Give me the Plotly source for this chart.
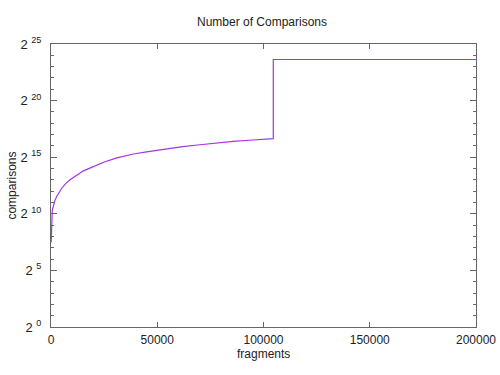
import plotly.graph_objects as go
import math

fragments = [100, 200, 330, 600, 1080, 1800, 2680, 4000, 5040, 7000, 8940, 12850, 15000,
             19150, 25080, 31000, 38730, 45000, 54450, 62000, 70100, 78000, 85800, 95000,
             104600, 104600, 200000]
comparisons = [180, 400, 870, 1300, 1600, 2300, 2950, 4000, 4900, 6600, 8200, 11600, 14000,
               17600, 24500, 31500, 39800, 45500, 55000, 62500, 70200, 78500, 86500, 94000,
               102000, 13000000, 13000000]

y_exponents = [0, 5, 10, 15, 20, 25]
x_ticks = [0, 50000, 100000, 150000, 200000]

FONT = "Liberation Sans, Arial"
TXT = "#222222"
fig = go.Figure()
fig.add_trace(go.Scatter(x=fragments, y=comparisons, mode="lines",
                         line=dict(color="#a335e0", width=1.2),
                         showlegend=False))

axis_common = dict(showgrid=False, zeroline=False, showline=True, linecolor="#666666",
                   linewidth=1, mirror="allticks", ticks="inside", tickcolor="#666666",
                   automargin=False)

fig.update_xaxes(range=[0, 200000], tickvals=x_ticks, ticktext=[str(v) for v in x_ticks],
                 ticklen=5, ticklabelstandoff=2,
                 tickfont=dict(family=FONT, size=12, color=TXT),
                 **axis_common)
fig.update_yaxes(type="log", range=[0, 25 * math.log10(2)],
                 tickvals=[2 ** e for e in y_exponents],
                 ticktext=["2 <sup>%d</sup>" % e for e in y_exponents],
                 ticklen=6, ticklabelstandoff=6,
                 tickfont=dict(family=FONT, size=13, color=TXT),
                 minor=dict(tickvals=[2 ** e for e in range(0, 26)], ticks="inside",
                            ticklen=3, tickcolor="#666666"),
                 **axis_common)

fig.add_annotation(text="fragments", xref="paper", yref="paper", x=0.499, y=-0.095,
                   showarrow=False, xanchor="center", yanchor="middle",
                   font=dict(family=FONT, size=12, color=TXT))
fig.add_annotation(text="comparisons", xref="paper", yref="paper", x=-0.094, y=0.5,
                   showarrow=False, xanchor="center", yanchor="middle", textangle=-90,
                   font=dict(family=FONT, size=12, color=TXT))

fig.update_layout(width=500, height=375, plot_bgcolor="white", paper_bgcolor="white",
                  margin=dict(l=51, r=24, t=44, b=48),
                  title=dict(text="Number of Comparisons", x=0.524, xanchor="center",
                             y=1 - 22 / 375, yanchor="middle",
                             font=dict(family=FONT, size=12, color=TXT)))

fig.write_html("out.html", config={"displayModeBar": False},
               post_script="document.body.style.margin='0';")
